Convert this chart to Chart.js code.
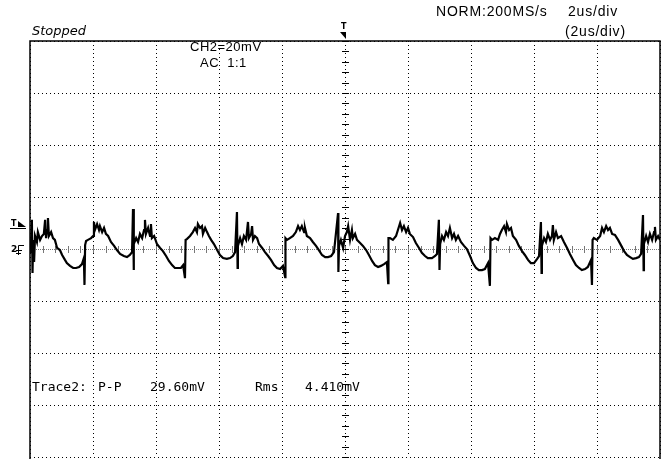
<!DOCTYPE html>
<html>
<head>
<meta charset="utf-8">
<script src="https://cdn.jsdelivr.net/npm/chart.js@4"></script>
<style>
  html, body { margin: 0; padding: 0; background: #fff; }
</style>
</head>
<body>
<canvas id="scope" width="661" height="459"></canvas>
<script>
// CH2 trace, time in us from the left edge of the screen, level in mV (AC, 20mV/div)
const timeUs = [
  0.00,0.03,0.06,0.08,0.10,0.13,0.16,0.22,0.25,0.32,0.38,0.44,0.48,0.51,0.54,0.57,0.60,0.67,0.73,0.79,
  0.86,0.95,1.02,1.11,1.17,1.27,1.37,1.46,1.56,1.65,1.71,1.73,1.75,1.78,1.84,1.94,2.00,2.03,2.06,2.13,
  2.19,2.22,2.29,2.35,2.41,2.48,2.57,2.67,2.76,2.86,2.98,3.08,3.17,3.24,
  3.27,3.29,3.30,3.37,3.43,3.49,3.56,3.62,3.65,3.68,3.75,3.81,3.84,3.87,3.94,4.03,4.13,4.22,4.32,4.41,
  4.51,4.60,4.70,4.79,4.86,4.92,4.94,4.98,5.08,5.17,5.24,5.30,5.33,5.40,5.46,5.49,5.56,5.62,5.68,5.75,
  5.84,5.94,6.03,6.13,6.25,6.35,6.44,6.51,
  6.57,6.59,6.60,6.67,6.73,6.79,6.86,6.92,6.95,7.02,7.05,7.08,7.14,7.21,7.27,7.37,7.46,7.56,7.65,7.75,
  7.84,7.94,8.03,8.10,8.11,8.16,8.25,8.35,8.44,8.51,8.57,8.63,8.70,8.73,8.79,8.89,8.98,9.08,9.17,9.27,
  9.37,9.46,9.56,9.65,
  9.78,9.79,9.81,9.87,9.94,10.00,10.06,10.10,10.16,10.22,10.25,10.32,10.38,10.48,10.57,10.67,10.76,10.86,10.95,11.05,
  11.14,11.24,11.33,11.37,11.38,11.43,11.52,11.62,11.68,11.75,11.81,11.87,11.94,12.00,12.06,12.16,12.25,12.35,12.44,12.54,
  12.63,12.76,12.86,12.92,
  12.98,13.00,13.02,13.08,13.14,13.21,13.27,13.33,13.40,13.46,13.52,13.59,13.68,13.78,13.87,13.97,14.06,14.16,14.25,14.35,
  14.44,14.54,14.60,14.62,14.67,14.76,14.86,14.92,14.98,15.05,15.11,15.14,15.21,15.27,15.33,15.43,15.52,15.62,15.71,15.81,
  15.90,16.00,16.10,16.16,
  16.22,16.24,16.25,16.32,16.38,16.44,16.51,16.57,16.60,16.63,16.70,16.76,16.86,16.95,17.05,17.14,17.24,17.33,17.43,17.52,
  17.62,17.71,17.81,17.84,17.86,17.90,18.00,18.10,18.16,18.22,18.29,18.35,18.41,18.48,18.57,18.67,18.76,18.86,18.95,19.05,
  19.14,19.24,19.33,19.40,
  19.46,19.48,19.49,19.56,19.62,19.68,19.75,19.81,19.84,19.87,19.94,20.00
];
const ch2mV = [
  -1.2,1.2,11.2,-9.2,3.5,-5.0,5.0,2.7,6.5,3.5,5.0,5.8,11.2,4.2,7.3,11.9,5.0,6.5,4.2,3.5,
  0.4,-0.4,-2.3,-4.2,-5.4,-6.5,-7.3,-7.3,-6.9,-5.8,-3.5,-13.8,1.5,3.1,3.5,4.2,5.0,10.4,7.3,9.6,
  7.3,8.8,6.5,8.1,5.8,5.0,2.7,1.2,-0.4,-1.9,-2.7,-3.1,-2.3,-1.2,
  15.4,-8.1,1.9,4.2,2.7,5.8,4.2,7.3,11.2,5.8,8.1,5.0,9.6,4.2,5.0,1.9,0.4,-0.8,-2.7,-4.6,
  -6.2,-7.3,-7.3,-7.3,-6.2,-11.2,3.5,3.8,5.0,6.5,8.1,6.5,9.6,8.1,8.8,5.8,8.1,6.5,5.0,3.5,
  1.9,-0.4,-2.3,-3.5,-3.8,-3.5,-2.7,-1.2,
  14.2,-7.3,1.2,4.2,1.9,5.0,3.5,10.4,4.2,5.8,8.8,3.5,5.0,4.2,1.9,0.4,-1.2,-2.7,-4.2,-6.2,
  -7.3,-7.7,-6.5,-10.8,4.2,3.5,4.2,5.0,6.5,8.8,7.3,8.8,6.5,8.1,5.0,4.2,2.7,1.2,-0.4,-2.3,
  -3.1,-3.1,-2.7,-1.2,
  13.8,-8.8,1.2,3.5,0.4,5.0,6.5,8.8,3.5,7.3,4.2,5.8,3.5,2.3,1.2,-0.4,-2.3,-4.6,-6.2,-6.9,
  -6.5,-5.8,-5.0,-13.1,4.2,4.2,3.5,5.0,7.3,10.0,7.3,8.8,6.5,8.1,5.8,4.6,2.3,0.4,-1.5,-2.7,
  -3.5,-3.5,-2.7,-1.9,
  11.2,-8.1,1.9,5.0,3.5,6.5,5.0,8.1,4.2,5.8,3.5,5.0,2.7,1.2,0,-2.7,-5.4,-7.3,-8.1,-8.1,
  -7.7,-5.4,-14.2,4.2,3.5,4.2,3.5,5.8,7.3,8.8,6.5,9.6,7.3,8.1,5.0,3.5,1.2,-0.8,-2.3,-4.2,
  -5.4,-5.4,-3.8,-2.7,
  10.4,-9.2,1.2,4.2,2.7,5.8,3.5,5.0,9.2,3.5,6.5,4.2,5.0,2.7,0.4,-1.9,-4.2,-6.2,-7.3,-8.1,
  -7.7,-6.9,-4.2,-13.8,3.5,4.2,3.5,5.0,8.1,6.5,8.8,7.3,8.1,5.8,5.4,3.5,1.5,-0.8,-2.3,-3.1,
  -3.8,-3.5,-3.1,-1.9,
  13.1,-8.1,1.9,5.0,2.7,5.8,3.5,6.5,8.5,3.5,5.0,3.5
];

// screen: 10 x 2us divisions, 8 x 20mV divisions
const xRange = [0, 20];
const yRange = [-80, 80];
const triggerUs = 10;
const triggerLevelMV = 8.5;

const points = timeUs.map((t, i) => ({ x: t, y: ch2mV[i] }));

const scopeDecor = {
  id: "scopeDecor",
  beforeDatasetsDraw(chart) {
    const { ctx, chartArea: a, scales: { x, y } } = chart;
    const cx = x.getPixelForValue(triggerUs);
    const cy = y.getPixelForValue(0);
    ctx.save();

    // centre horizontal (ground) line, grey dots
    ctx.strokeStyle = "#777";
    ctx.lineWidth = 1;
    ctx.setLineDash([1, 1]);
    ctx.beginPath();
    ctx.moveTo(a.left, cy + 0.5);
    ctx.lineTo(a.right, cy + 0.5);
    ctx.stroke();
    ctx.setLineDash([]);

    // minor ticks on the centre lines
    for (let t = xRange[0]; t <= xRange[1] + 0.001; t += 0.4) {
      const px = Math.round(x.getPixelForValue(t)) + 0.5;
      ctx.beginPath();
      ctx.moveTo(px, cy - 3);
      ctx.lineTo(px, cy + 4);
      ctx.stroke();
    }
    ctx.strokeStyle = "#000";
    for (let v = yRange[0]; v <= yRange[1] + 0.001; v += 4) {
      const py = Math.round(y.getPixelForValue(v)) + 0.5;
      ctx.beginPath();
      ctx.moveTo(cx - 3, py);
      ctx.lineTo(cx + 4, py);
      ctx.stroke();
    }
    ctx.restore();
  },
  afterDraw(chart) {
    const { ctx, chartArea: a, scales: { x, y } } = chart;
    const cx = Math.round(x.getPixelForValue(triggerUs));
    const cy = Math.round(y.getPixelForValue(0));
    const ty = Math.round(y.getPixelForValue(triggerLevelMV));
    ctx.save();

    // frame
    ctx.strokeStyle = "#000";
    ctx.lineWidth = 1.5;
    ctx.strokeRect(a.left, a.top, a.right - a.left, a.bottom - a.top + 4);

    ctx.fillStyle = "#000";
    ctx.textBaseline = "middle";

    ctx.font = "14px 'Liberation Sans'";
    ctx.letterSpacing = "0.8px";
    ctx.fillText("NORM:200MS/s", 436, 12);
    ctx.fillText("2us/div", 568, 12);
    ctx.fillText("(2us/div)", 565, 32);
    ctx.font = "13px 'Liberation Sans'";
    ctx.letterSpacing = "0.5px";
    ctx.fillText("CH2=20mV", 190, 47);
    ctx.fillText("AC  1:1", 200, 63);
    ctx.letterSpacing = "0px";

    ctx.font = "italic 13px 'DejaVu Sans'";
    ctx.fillText("Stopped", 32, 32);

    ctx.font = "13px 'DejaVu Sans Mono'";
    ctx.fillText("Trace2:", 32, 388);
    ctx.fillText("P-P", 98, 388);
    ctx.fillText("29.60mV", 150, 388);
    ctx.fillText("Rms", 255, 388);
    ctx.fillText("4.410mV", 305, 388);

    // trigger position marker
    ctx.font = "bold 8px 'DejaVu Sans'";
    ctx.fillText("T", cx - 4, 27);
    ctx.beginPath();
    ctx.moveTo(cx - 5, 32);
    ctx.lineTo(cx + 1, 32);
    ctx.lineTo(cx + 1, 39);
    ctx.closePath();
    ctx.fill();

    // trigger level marker
    ctx.fillText("T", 11, ty - 3);
    ctx.beginPath();
    ctx.moveTo(18, ty - 6);
    ctx.lineTo(26, ty);
    ctx.lineTo(18, ty);
    ctx.closePath();
    ctx.fill();
    ctx.fillRect(10, ty + 1, 16, 1);

    // channel 2 ground marker
    ctx.font = "bold 9px 'DejaVu Sans'";
    ctx.fillText("2", 11, cy + 1);
    ctx.lineWidth = 1;
    ctx.beginPath();
    ctx.moveTo(18.5, cy + 6);
    ctx.lineTo(18.5, cy - 3.5);
    ctx.lineTo(24, cy - 3.5);
    ctx.moveTo(16, cy + 1.5); ctx.lineTo(22, cy + 1.5);
    ctx.moveTo(16, cy + 4.5); ctx.lineTo(21, cy + 4.5);
    ctx.stroke();
    ctx.restore();
  }
};

new Chart(document.getElementById("scope"), {
  type: "scatter",
  data: {
    datasets: [{
      label: "CH2",
      data: points,
      showLine: true,
      borderColor: "#000",
      borderWidth: 2.2,
      pointRadius: 0,
      tension: 0
    }]
  },
  options: {
    responsive: false,
    animation: false,
    devicePixelRatio: 1,
    layout: { padding: { left: 30, top: 41, right: 1, bottom: 2 } },
    plugins: { legend: { display: false }, tooltip: { enabled: false } },
    scales: {
      x: {
        type: "linear",
        min: xRange[0],
        max: xRange[1],
        ticks: { display: false, stepSize: 2 },
        grid: { color: "#000", lineWidth: 1, drawTicks: false },
        border: { display: false, dash: [1, 3] }
      },
      y: {
        min: yRange[0],
        max: yRange[1],
        ticks: { display: false, stepSize: 20 },
        grid: {
          color: c => (c.tick && c.tick.value === 0 ? "rgba(0,0,0,0)" : "#000"),
          lineWidth: 1,
          drawTicks: false
        },
        border: { display: false, dash: [1, 3] }
      }
    }
  },
  plugins: [scopeDecor]
});
</script>
</body>
</html>
